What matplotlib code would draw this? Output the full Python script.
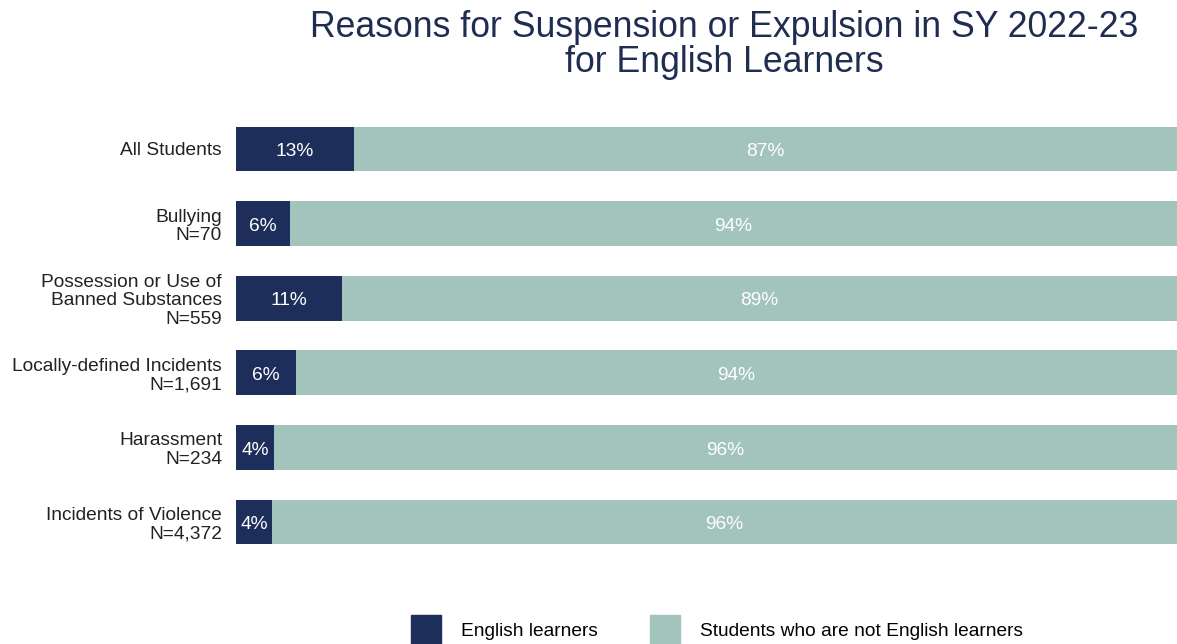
import matplotlib
matplotlib.use("Agg")
import matplotlib.pyplot as plt
from matplotlib.patches import Patch
import numpy as np

plt.rcParams['font.family'] = ['Liberation Sans', 'DejaVu Sans']

categories = [
    "All Students",
    "Bullying\nN=70",
    "Possession or Use of\nBanned Substances\nN=559",
    "Locally-defined Incidents\nN=1,691",
    "Harassment\nN=234",
    "Incidents of Violence\nN=4,372",
]
el_pct = [12.5, 5.7, 11.3, 6.4, 4.0, 3.8]
el_labels = ["13%", "6%", "11%", "6%", "4%", "4%"]
non_el_labels = ["87%", "94%", "89%", "94%", "96%", "96%"]
series_names = ["English learners", "Students who are not English learners"]
title = "Reasons for Suspension or Expulsion in SY 2022-23\nfor English Learners"

dark = "#1d2e5b"
light = "#a3c4bc"
fs = 13.8

fig = plt.figure(figsize=(11.77, 6.44), dpi=100)
ax = fig.add_axes([236/1177, 0.1315, 1 - 236/1177, 0.8266 - 0.1315])

y = np.arange(len(categories))
el = np.array(el_pct)
non = 100 - el
b1 = ax.barh(y, el, height=0.6, color=dark, label=series_names[0])
b2 = ax.barh(y, non, left=el, height=0.6, color=light, label=series_names[1])
for t in ax.bar_label(b1, labels=el_labels, label_type='center', color='white', fontsize=fs):
    t.set_y(-2)
for t in ax.bar_label(b2, labels=non_el_labels, label_type='center', color='white', fontsize=fs):
    t.set_y(-2)

ax.set_xlim(0, 100)
ax.set_ylim(5.5, -0.5)
ax.set_yticks(y)
ax.set_yticklabels(categories, fontsize=fs, color="#222222", ha='right', multialignment='right')
for t in ax.get_yticklabels():
    t.set_linespacing(1.1)
ax.tick_params(axis='y', length=0, pad=10)
ax.set_xticks([])
for s in ax.spines.values():
    s.set_visible(False)

fig.text(724/1177, 1 - 10/644, title, ha='center', va='top', fontsize=25.7,
         color="#1f2d50", linespacing=1.0)

handles = [Patch(color=dark), Patch(color=light)]
fig.legend(handles, series_names, loc='center', bbox_to_anchor=(717/1177, (644-630)/644),
           ncol=2, frameon=False, fontsize=fs, handlelength=1.56, handleheight=2.1,
           handletextpad=1.04, columnspacing=2.76)

fig.savefig("out.png", dpi=100)
